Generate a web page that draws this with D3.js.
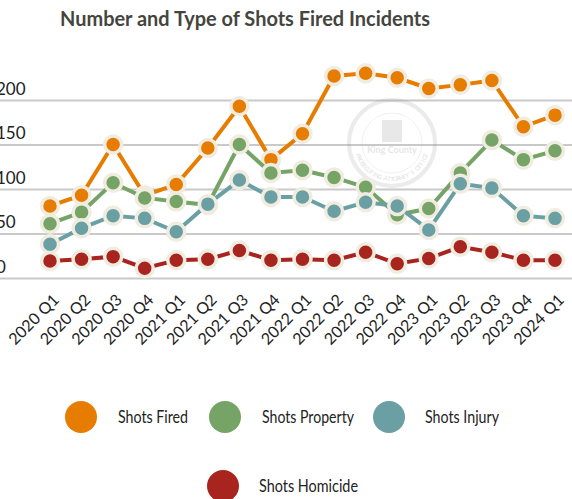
<!DOCTYPE html>
<html>
<head>
<meta charset="utf-8">
<script src="https://cdn.jsdelivr.net/npm/d3@7"></script>
<style>
  body { margin: 0; background: #fff; }
  .title { font-family: "Lato", sans-serif; font-weight: 700; font-size: 20px; fill: #454540; }
  .tick-y { font-family: "Lato", sans-serif; font-size: 17px; fill: #222; }
  .tick-x { font-family: "Lato", sans-serif; font-size: 16px; fill: #222; }
  .legend-label { font-family: "Lato", sans-serif; font-size: 17px; fill: #222; }
</style>
</head>
<body>
<svg id="chart" width="572" height="499"></svg>
<script>
// quarters on the x axis
var quarters = ["2020 Q1", "2020 Q2", "2020 Q3", "2020 Q4",
    "2021 Q1", "2021 Q2", "2021 Q3", "2021 Q4",
    "2022 Q1", "2022 Q2", "2022 Q3", "2022 Q4",
    "2023 Q1", "2023 Q2", "2023 Q3", "2023 Q4", "2024 Q1"];

var shotsFired = [81, 93, 150, 93, 105, 146, 193, 133, 162, 227, 230, 225, 213, 217, 222, 170, 183];
var shotsProperty = [61, 74, 107, 90, 86, 82, 150, 118, 121, 113, 102, 71, 78, 118, 155, 133, 143];
var shotsInjury = [38, 56, 70, 67, 52, 83, 110, 91, 91, 75, 85, 81, 54, 106, 101, 70, 67];
var shotsHomicide = [19, 21, 24, 11, 20, 21, 31, 20, 21, 20, 29, 16, 22, 35, 29, 20, 20];

var yTicks = [0, 50, 100, 150, 200];

var seriesNames = ["Shots Fired", "Shots Property", "Shots Injury", "Shots Homicide"];
var seriesColors = ["#e67c00", "#76a466", "#6a9fa3", "#a8251f"];

var series = [
    { name: seriesNames[0], colour: seriesColors[0], values: shotsFired },
    { name: seriesNames[1], colour: seriesColors[1], values: shotsProperty },
    { name: seriesNames[2], colour: seriesColors[2], values: shotsInjury },
    { name: seriesNames[3], colour: seriesColors[3], values: shotsHomicide }
];

var width = 572, height = 499;
var svg = d3.select("#chart");

var x = d3.scalePoint()
    .domain(quarters)
    .range([50, 555]);

var y = d3.scaleLinear()
    .domain([0, 200])
    .range([278, 100]);

// title
svg.append("text")
    .attr("class", "title")
    .attr("x", 245)
    .attr("y", 26)
    .attr("text-anchor", "middle")
    .attr("textLength", 370)
    .attr("lengthAdjust", "spacingAndGlyphs")
    .text("Number and Type of Shots Fired Incidents");

// gridlines + y labels
var yAxis = d3.axisLeft(y)
    .tickValues(yTicks)
    .tickSize(-width)
    .tickFormat(d => d);

var gy = svg.append("g")
    .call(yAxis);
gy.select(".domain").remove();
gy.selectAll(".tick line")
    .attr("stroke", "#c9c9c9")
    .attr("stroke-width", 2.2);
gy.selectAll(".tick text")
    .attr("class", "tick-y")
    .attr("x", -4)
    .attr("dy", -6)
    .attr("text-anchor", "start")
    .attr("font-family", null)
    .attr("font-size", null);

// faint watermark seal
var seal = svg.append("g")
    .attr("transform", "translate(392,143)")
    .attr("opacity", 0.16);
seal.append("circle")
    .attr("r", 43)
    .attr("fill", "none")
    .attr("stroke", "#888")
    .attr("stroke-width", 4);
seal.append("circle")
    .attr("r", 30)
    .attr("fill", "none")
    .attr("stroke", "#aaa")
    .attr("stroke-width", 1);
seal.append("rect")
    .attr("x", -10).attr("y", -23)
    .attr("width", 20).attr("height", 22)
    .attr("fill", "#777");
seal.append("text")
    .attr("y", 10)
    .attr("text-anchor", "middle")
    .attr("font-family", "Lato, sans-serif")
    .attr("font-weight", 700)
    .attr("font-size", 9)
    .attr("fill", "#666")
    .text("King County");

// ring text, one letter at a time along the lower arc
var ringText = "PROSECUTING ATTORNEY'S OFFICE".split("");
var ringAngle = d3.scaleLinear()
    .domain([0, ringText.length - 1])
    .range([160, 20]);
seal.selectAll("text.ring")
    .data(ringText)
    .join("text")
    .attr("class", "ring")
    .attr("text-anchor", "middle")
    .attr("font-family", "Lato, sans-serif")
    .attr("font-weight", 700)
    .attr("font-size", 6)
    .attr("fill", "#666")
    .attr("transform", (d, i) => {
        var a = ringAngle(i) * Math.PI / 180;
        return `translate(${36 * Math.cos(a)},${36 * Math.sin(a)}) rotate(${ringAngle(i) - 90})`;
    })
    .attr("dy", 2)
    .text(d => d);

// x labels, rotated
svg.append("g")
    .selectAll("text")
    .data(quarters)
    .join("text")
    .attr("class", "tick-x")
    .attr("text-anchor", "end")
    .attr("transform", d => `translate(${x(d) + 10},${301}) rotate(-45)`)
    .text(d => d);

// lines
var line = d3.line()
    .x((d, i) => x(quarters[i]))
    .y(d => y(d));

var groups = svg.selectAll("g.series")
    .data(series)
    .join("g")
    .attr("class", "series");

groups.append("path")
    .attr("d", d => line(d.values))
    .attr("fill", "none")
    .attr("stroke", d => d.colour)
    .attr("stroke-width", 4);

groups.selectAll("circle")
    .data(d => d.values.map((v, i) => ({ v: v, i: i, colour: d.colour })))
    .join("circle")
    .attr("cx", d => x(quarters[d.i]))
    .attr("cy", d => y(d.v))
    .attr("r", 8.5)
    .attr("fill", d => d.colour)
    .attr("stroke", "#f1ece0")
    .attr("stroke-width", 3.5);

// legend
var legendPos = [
    { cx: 81, cy: 417, tx: 118, w: 70 },
    { cx: 225, cy: 417, tx: 262, w: 92 },
    { cx: 389, cy: 417, tx: 425, w: 74 },
    { cx: 223, cy: 486, tx: 259, w: 99 }
];

var legend = svg.append("g")
    .selectAll("g")
    .data(series)
    .join("g");

legend.append("circle")
    .attr("cx", (d, i) => legendPos[i].cx)
    .attr("cy", (d, i) => legendPos[i].cy)
    .attr("r", 16)
    .attr("fill", d => d.colour);

legend.append("text")
    .attr("class", "legend-label")
    .attr("x", (d, i) => legendPos[i].tx)
    .attr("y", (d, i) => legendPos[i].cy + 6)
    .attr("textLength", (d, i) => legendPos[i].w)
    .attr("lengthAdjust", "spacingAndGlyphs")
    .text(d => d.name);
</script>
</body>
</html>
